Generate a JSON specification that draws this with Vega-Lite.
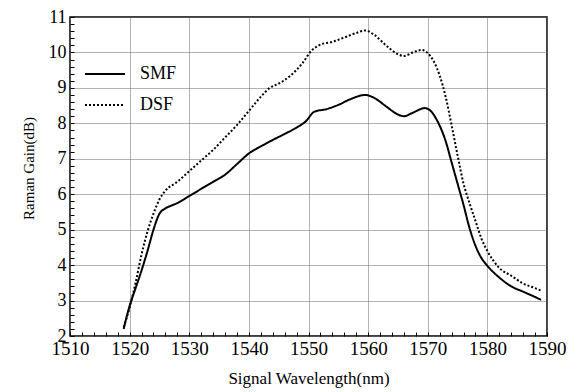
{
 "$schema": "https://vega.github.io/schema/vega-lite/v6.json",
 "width": 477, "height": 319,
 "autosize": "none",
 "padding": {"left": 70, "top": 17, "right": 27, "bottom": 56},
 "config": {"view": {"stroke": "black", "strokeWidth": 1.5}, "font": "Liberation Serif",
   "axis": {"labelFont": "Liberation Serif", "titleFont": "Liberation Serif"},
   "legend": {"labelFont": "Liberation Serif"}},
 "data": {"values": [
  {"s":"SMF","x":1519.0,"y":2.2},{"s":"SMF","x":1520.0,"y":2.85},{"s":"SMF","x":1521.0,"y":3.35},{"s":"SMF","x":1522.0,"y":3.85},{"s":"SMF","x":1523.0,"y":4.4},{"s":"SMF","x":1524.0,"y":5.0},{"s":"SMF","x":1525.0,"y":5.45},{"s":"SMF","x":1526.0,"y":5.6},{"s":"SMF","x":1527.0,"y":5.68},{"s":"SMF","x":1528.0,"y":5.75},{"s":"SMF","x":1530.0,"y":5.95},{"s":"SMF","x":1532.0,"y":6.15},{"s":"SMF","x":1534.0,"y":6.35},{"s":"SMF","x":1536.0,"y":6.55},{"s":"SMF","x":1538.0,"y":6.85},{"s":"SMF","x":1540.0,"y":7.15},{"s":"SMF","x":1542.0,"y":7.35},{"s":"SMF","x":1544.0,"y":7.53},{"s":"SMF","x":1546.0,"y":7.7},{"s":"SMF","x":1548.0,"y":7.88},{"s":"SMF","x":1549.5,"y":8.05},{"s":"SMF","x":1551.0,"y":8.33},{"s":"SMF","x":1553.0,"y":8.4},{"s":"SMF","x":1555.0,"y":8.52},{"s":"SMF","x":1557.0,"y":8.68},{"s":"SMF","x":1559.5,"y":8.8},{"s":"SMF","x":1561.0,"y":8.72},{"s":"SMF","x":1563.0,"y":8.48},{"s":"SMF","x":1565.0,"y":8.25},{"s":"SMF","x":1566.0,"y":8.2},{"s":"SMF","x":1567.5,"y":8.3},{"s":"SMF","x":1569.5,"y":8.43},{"s":"SMF","x":1570.5,"y":8.35},{"s":"SMF","x":1571.5,"y":8.1},{"s":"SMF","x":1573.0,"y":7.5},{"s":"SMF","x":1574.0,"y":6.9},{"s":"SMF","x":1575.0,"y":6.3},{"s":"SMF","x":1576.0,"y":5.7},{"s":"SMF","x":1577.0,"y":5.05},{"s":"SMF","x":1578.0,"y":4.55},{"s":"SMF","x":1579.0,"y":4.2},{"s":"SMF","x":1580.0,"y":3.98},{"s":"SMF","x":1582.0,"y":3.65},{"s":"SMF","x":1584.0,"y":3.4},{"s":"SMF","x":1586.0,"y":3.25},{"s":"SMF","x":1588.0,"y":3.1},{"s":"SMF","x":1589.0,"y":3.02},
  {"s":"DSF","x":1519.0,"y":2.25},{"s":"DSF","x":1520.0,"y":2.8},{"s":"DSF","x":1521.0,"y":3.5},{"s":"DSF","x":1522.0,"y":4.3},{"s":"DSF","x":1523.0,"y":4.95},{"s":"DSF","x":1524.0,"y":5.45},{"s":"DSF","x":1525.0,"y":5.85},{"s":"DSF","x":1526.0,"y":6.1},{"s":"DSF","x":1528.0,"y":6.35},{"s":"DSF","x":1530.0,"y":6.65},{"s":"DSF","x":1532.0,"y":6.95},{"s":"DSF","x":1534.0,"y":7.25},{"s":"DSF","x":1536.0,"y":7.6},{"s":"DSF","x":1538.0,"y":7.95},{"s":"DSF","x":1540.0,"y":8.35},{"s":"DSF","x":1542.0,"y":8.75},{"s":"DSF","x":1543.5,"y":9.0},{"s":"DSF","x":1545.0,"y":9.12},{"s":"DSF","x":1547.0,"y":9.35},{"s":"DSF","x":1549.0,"y":9.7},{"s":"DSF","x":1550.5,"y":10.05},{"s":"DSF","x":1552.0,"y":10.22},{"s":"DSF","x":1554.0,"y":10.3},{"s":"DSF","x":1556.0,"y":10.42},{"s":"DSF","x":1558.0,"y":10.55},{"s":"DSF","x":1559.5,"y":10.62},{"s":"DSF","x":1561.0,"y":10.5},{"s":"DSF","x":1563.0,"y":10.2},{"s":"DSF","x":1565.0,"y":9.95},{"s":"DSF","x":1566.0,"y":9.9},{"s":"DSF","x":1567.5,"y":10.0},{"s":"DSF","x":1569.0,"y":10.07},{"s":"DSF","x":1570.0,"y":9.98},{"s":"DSF","x":1571.0,"y":9.75},{"s":"DSF","x":1572.0,"y":9.35},{"s":"DSF","x":1573.0,"y":8.75},{"s":"DSF","x":1574.0,"y":7.95},{"s":"DSF","x":1575.0,"y":7.1},{"s":"DSF","x":1576.0,"y":6.3},{"s":"DSF","x":1577.0,"y":5.75},{"s":"DSF","x":1578.0,"y":5.25},{"s":"DSF","x":1579.0,"y":4.75},{"s":"DSF","x":1580.0,"y":4.4},{"s":"DSF","x":1582.0,"y":3.92},{"s":"DSF","x":1584.0,"y":3.7},{"s":"DSF","x":1586.0,"y":3.48},{"s":"DSF","x":1588.0,"y":3.35},{"s":"DSF","x":1589.0,"y":3.28}
 ]},
 "mark": {"type": "line", "interpolate": "monotone", "strokeWidth": 2, "color": "black"},
 "encoding": {
  "x": {"field": "x", "type": "quantitative", "scale": {"domain": [1510, 1590], "nice": false, "zero": false},
    "axis": {"orient": "bottom", "values": [1510,1512,1514,1516,1518,1520,1522,1524,1526,1528,1530,1532,1534,1536,1538,1540,1542,1544,1546,1548,1550,1552,1554,1556,1558,1560,1562,1564,1566,1568,1570,1572,1574,1576,1578,1580,1582,1584,1586,1588,1590],
      "labelExpr": "datum.value % 10 === 0 ? format(datum.value, 'd') : ''",
      "grid": true, "gridDash": [1,1], "gridColor": "#666",
      "gridOpacity": {"condition": {"test": "datum.value % 10 === 0", "value": 1}, "value": 0},
      "ticks": true, "tickSize": -4, "tickColor": "black", "domain": false,
      "labelFontSize": 19, "labelPadding": 7, "labelColor": "black", "labelFlush": false, "labelOverlap": false,
      "title": "Signal Wavelength(nm)", "titleFontSize": 17, "titleFontWeight": "normal", "titleColor": "black", "titlePadding": 12}},
  "y": {"field": "y", "type": "quantitative", "scale": {"domain": [2, 11], "nice": false, "zero": false},
    "axis": {"orient": "left", "values": [2,2.2,2.4,2.6,2.8,3,3.2,3.4,3.6,3.8,4,4.2,4.4,4.6,4.8,5,5.2,5.4,5.6,5.8,6,6.2,6.4,6.6,6.8,7,7.2,7.4,7.6,7.8,8,8.2,8.4,8.6,8.8,9,9.2,9.4,9.6,9.8,10,10.2,10.4,10.6,10.8,11],
      "labelExpr": "abs(datum.value - round(datum.value)) < 0.01 ? format(datum.value, 'd') : ''",
      "grid": true, "gridDash": [1,1], "gridColor": "#666",
      "gridOpacity": {"condition": {"test": "abs(datum.value - round(datum.value)) < 0.01", "value": 1}, "value": 0},
      "ticks": true, "tickSize": -4, "tickColor": "black", "domain": false,
      "labelFontSize": 18, "labelPadding": 8, "labelColor": "black", "labelFlush": false, "labelOverlap": false,
      "title": "Raman Gain(dB)", "titleFontSize": 15, "titleFontWeight": "normal", "titleColor": "black", "titlePadding": 12, "titleY": 151}},
  "strokeDash": {"field": "s", "type": "nominal", "scale": {"domain": ["SMF", "DSF"], "range": [[1, 0], [2, 2]]},
    "legend": {"orient": "none", "legendX": 14, "legendY": 36, "title": null, "symbolType": "stroke", "symbolSize": 1600, "symbolStrokeWidth": 2, "symbolStrokeColor": "black", "labelFontSize": 18, "labelColor": "black", "labelOffset": 14, "rowPadding": 1, "padding": 0}}
 }
}
